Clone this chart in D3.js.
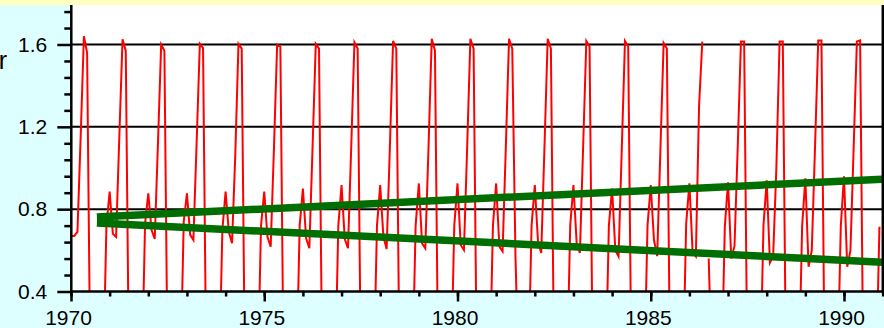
<!DOCTYPE html>
<meta charset="utf-8">
<title>chart</title>
<style>
  body { margin:0; padding:0; background:#ddffff; }
  svg { display:block; }
  text { font-family: 'Liberation Sans', Arial, sans-serif; }
</style>
<body>
<div id='chart'></div>
<script src="https://cdn.jsdelivr.net/npm/d3@7"></script>
<script>

// monthly values, Jan..Dec, values under 0.4 fall below the frame
var years = [1970,1971,1972,1973,1974,1975,1976,1977,1978,1979,1980,1981,1982,1983,1984,1985,1986,1987,1988,1989,1990];
var monthly = [
  [0.67, 0.67, 0.69, 1.15, 1.64, 1.56, 0, 0, 0, 0, 0, 0.72],
  [0.885, 0.68, 0.665, 1.15, 1.625, 1.57, 0, 0, 0, 0, 0, 0.73],
  [0.877, 0.70, 0.655, 1.12, 1.60, 1.57, 0, 0, 0, 0, 0, 0.74],
  [0.877, 0.675, 0.65, 1.12, 1.603, 1.582, 0, 0, 0, 0, 0, 0.70],
  [0.885, 0.69, 0.634, 1.06, 1.603, 1.58, 0, 0, 0, 0, 0, 0.72],
  [0.885, 0.666, 0.618, 1.09, 1.598, 1.59, 0, 0, 0, 0, 0, 0.72],
  [0.90, 0.658, 0.61, 1.10, 1.603, 1.58, 0, 0, 0, 0, 0, 0.72],
  [0.917, 0.655, 0.61, 1.10, 1.61, 1.58, 0, 0, 0, 0, 0, 0.72],
  [0.917, 0.666, 0.607, 1.10, 1.617, 1.58, 0, 0, 0, 0, 0, 0.72],
  [0.925, 0.634, 0.61, 1.10, 1.628, 1.57, 0, 0, 0, 0, 0, 0.72],
  [0.925, 0.626, 0.602, 1.10, 1.628, 1.58, 0, 0, 0, 0, 0, 0.72],
  [0.925, 0.618, 0.595, 1.10, 1.628, 1.58, 0.57, 0, 0, 0, 0, 0.72],
  [0.917, 0.64, 0.587, 1.10, 1.628, 1.58, 0, 0, 0, 0, 0, 0.72],
  [0.917, 0.634, 0.587, 1.10, 1.617, 1.59, 0, 0, 0, 0, 0, 0.72],
  [0.90, 0.60, 0.57, 1.09, 1.617, 1.59, 0, 0, 0, 0, 0, 0.72],
  [0.917, 0.65, 0.572, 1.09, 1.607, 1.58, 0, 0, 0, 0, 0, 0.73],
  [0.926, 0.59, 0.57, 1.30, 1.614, null, 0.56, 0, 0, 0, 0, 0.715],
  [0.93, 0.56, 0.62, 1.10, 1.614, 1.614, 0, 0, 0, 0, 0, 0.72],
  [0.94, 0.54, 0.57, 1.00, 1.614, 1.614, 0, 0, 0, 0, 0, 0.715],
  [0.95, 0.52, 0.60, 1.10, 1.62, 1.62, 0, 0, 0, 0, 0, 0.715],
  [0.96, 0.52, 0.60, 1.10, 1.615, 1.62, 0, 0, 0, 0, 0, 0.715]
];

// two straight trend lines
var trendX = [1970.67, 1991.03];
var upperTrend = [0.762, 0.946];
var lowerTrend = [0.733, 0.542];

var xMajor = [1970, 1975, 1980, 1985, 1990];
var xMinor = d3.range(1970, 1992);
var yMajor = [0.4, 0.8, 1.2, 1.6];
var yMinor = [0.48,0.56,0.64,0.72,0.88,0.96,1.04,1.12,1.28,1.36,1.44,1.52,1.68,1.76];
var yGrid = [0.8, 1.2, 1.6];

var W = 884, H = 328,
    plotL = 72, plotR = 882, plotT = 5, plotB = 291.5;

var x = d3.scaleLinear().domain([1970, 1990]).range([71, 844]);
var y = d3.scaleLinear().domain([0.4, 1.6]).range([291.5, 44.5]);

var svg = d3.select("#chart").append("svg").attr("width", W).attr("height", H);

svg.append("rect").attr("width", W).attr("height", H).attr("fill", "#ddffff");
svg.append("rect").attr("width", W).attr("height", plotT).attr("fill", "#ffffc0");
svg.append("rect").attr("x", plotL).attr("y", plotT)
  .attr("width", plotR - plotL).attr("height", plotB - plotT).attr("fill", "#fff");

svg.append("clipPath").attr("id", "plot")
  .append("rect").attr("x", plotL).attr("y", plotT)
  .attr("width", plotR - plotL).attr("height", plotB - plotT);

//grid
svg.selectAll(".grid").data(yGrid).enter().append("line")
  .attr("x1", plotL).attr("x2", plotR)
  .attr("y1", function(d) { return y(d); }).attr("y2", function(d) { return y(d); })
  .attr("stroke", "#000").attr("stroke-width", 2);

//red series
var points = [];
years.forEach(function(yr, i) {
  monthly[i].forEach(function(v, m) {
    points.push({t: yr + m / 12, v: v});
  });
});

var line = d3.line()
  .defined(function(d) { return d.v != null; })
  .x(function(d) { return x(d.t); })
  .y(function(d) { return y(d.v); });

var plot = svg.append("g").attr("clip-path", "url(#plot)");

plot.append("path").datum(points)
  .attr("d", line)
  .attr("fill", "none").attr("stroke", "#ff0000")
  .attr("stroke-width", 2).attr("stroke-linejoin", "miter");

//green trends
[upperTrend, lowerTrend].forEach(function(tr) {
  plot.append("path")
    .datum(trendX.map(function(t, i) { return {t: t, v: tr[i]}; }))
    .attr("d", line)
    .attr("fill", "none").attr("stroke", "#006e00").attr("stroke-width", 7.5);
});

//axes
function styleAxis(g) {
  g.select(".domain").remove();
  g.selectAll(".tick line").attr("stroke", "#000").attr("stroke-width", 2.5);
  g.selectAll(".tick text").attr("font-size", 21).attr("fill", "#000");
}

svg.append("g").attr("transform", "translate(71.3,0)")
  .call(d3.axisLeft(y).tickValues(yMinor).tickSize(7).tickFormat(""))
  .call(styleAxis);
svg.append("g").attr("transform", "translate(71.3,0)")
  .call(d3.axisLeft(y).tickValues(yMajor).tickSize(14).tickPadding(10).tickFormat(d3.format(".1f")))
  .call(styleAxis);

svg.append("g").attr("transform", "translate(0," + plotB + ")")
  .call(d3.axisBottom(x).tickValues(xMinor).tickSize(5).tickFormat(""))
  .call(styleAxis);
var xAx = svg.append("g").attr("transform", "translate(0," + plotB + ")")
  .call(d3.axisBottom(x).tickValues(xMajor).tickSize(10).tickPadding(8.6).tickFormat(d3.format("d")))
  .call(styleAxis);
xAx.selectAll(".tick text").attr("dx", -3);

//frame lines
svg.append("line").attr("x1", 71.3).attr("x2", 71.3).attr("y1", plotT).attr("y2", plotB + 1)
  .attr("stroke", "#000").attr("stroke-width", 2.5);
svg.append("line").attr("x1", 882.8).attr("x2", 882.8).attr("y1", plotT).attr("y2", plotB + 1)
  .attr("stroke", "#000").attr("stroke-width", 2.5);
svg.append("line").attr("x1", 70).attr("x2", W).attr("y1", plotB).attr("y2", plotB)
  .attr("stroke", "#000").attr("stroke-width", 2.5);

//cut-off label at the left edge
svg.append("text").attr("x", 7).attr("y", 69)
  .attr("text-anchor", "end").attr("font-size", 25).attr("fill", "#000")
  .text("r");

</script>
</body>
</html>
